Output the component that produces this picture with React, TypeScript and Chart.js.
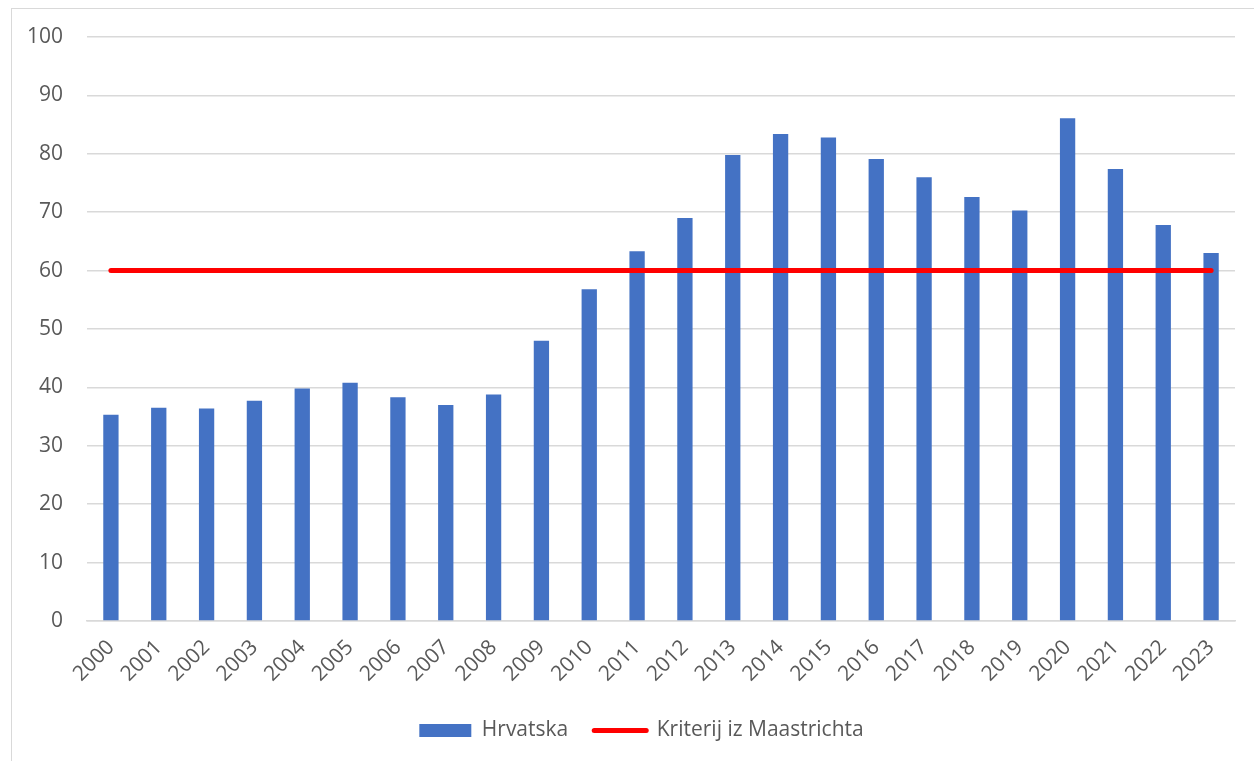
import React, { useEffect, useRef } from "react";
import { Chart, registerables } from "chart.js";

Chart.register(...registerables);

const years: string[] = [
  "2000", "2001", "2002", "2003", "2004", "2005", "2006", "2007", "2008", "2009", "2010", "2011",
  "2012", "2013", "2014", "2015", "2016", "2017", "2018", "2019", "2020", "2021", "2022", "2023",
];
const hrvatska: number[] = [
  35.3, 36.5, 36.4, 37.7, 39.8, 40.8, 38.3, 37.0, 38.8, 48.0, 56.8, 63.3,
  69.0, 79.8, 83.4, 82.8, 79.1, 76.0, 72.6, 70.3, 86.1, 77.4, 67.8, 63.0,
];
const kriterij: number[] = years.map(() => 60);
const seriesNames: string[] = ["Hrvatska", "Kriterij iz Maastrichta"];

const FONT = "'Open Sans', 'Noto Sans', sans-serif";
const TEXT = "#595959";

const legendShift = {
  id: "legendShift",
  afterLayout(chart: any) {
    if (chart.legend) {
      chart.legend.left += 48;
    }
  },
};

export default function App() {
  const ref = useRef<HTMLCanvasElement | null>(null);
  useEffect(() => {
    if (!ref.current) return;
    const chart = new Chart(ref.current, {
      type: "bar",
      data: {
        labels: years,
        datasets: [
          {
            type: "bar",
            label: seriesNames[0],
            data: hrvatska,
            backgroundColor: "#4472C4",
            borderWidth: 0,
            barPercentage: 0.32,
            categoryPercentage: 1,
            order: 1,
          },
          {
            type: "line",
            label: seriesNames[1],
            data: kriterij,
            borderColor: "#FF0000",
            backgroundColor: "#FF0000",
            borderWidth: 5,
            borderCapStyle: "round",
            pointRadius: 0,
            pointHoverRadius: 0,
            order: 0,
          } as any,
        ],
      },
      plugins: [legendShift],
      options: {
        animation: false,
        responsive: false,
        maintainAspectRatio: false,
        layout: { padding: { left: 0, right: 19, top: 37, bottom: 10 } },
        scales: {
          x: {
            grid: { display: false },
            border: { display: true, color: "#d9d9d9", width: 1.5 },
            ticks: {
              color: TEXT,
              font: { family: FONT, size: 21 },
              minRotation: 45,
              maxRotation: 45,
              padding: 6,
              autoSkip: false,
            },
            afterFit: (s: any) => {
              s.height = 73;
            },
          },
          y: {
            min: 0,
            max: 100,
            grid: { color: "#d9d9d9", lineWidth: 1.5, drawTicks: false },
            border: { display: false },
            ticks: {
              stepSize: 10,
              color: TEXT,
              font: { family: FONT, size: 21 },
              padding: 24,
            },
            afterFit: (s: any) => {
              s.width = 87;
            },
          },
        },
        plugins: {
          tooltip: { enabled: false },
          legend: {
            position: "bottom",
            labels: {
              color: TEXT,
              font: { family: FONT, size: 21 },
              usePointStyle: true,
              pointStyleWidth: 52,
              boxHeight: 13,
              padding: 26,
              sort: (a: any, b: any) => a.datasetIndex - b.datasetIndex,
              generateLabels: (c: any) => {
                const items = Chart.defaults.plugins.legend.labels.generateLabels(c);
                items.forEach((it: any) => {
                  if (it.datasetIndex === 0) {
                    it.pointStyle = "rect";
                    it.lineWidth = 0;
                    it.fillStyle = "#4472C4";
                    it.strokeStyle = "#4472C4";
                  } else {
                    it.pointStyle = "line";
                    it.lineWidth = 5;
                    it.strokeStyle = "#FF0000";
                    it.lineCap = "round";
                  }
                });
                return items;
              },
            },
          },
        },
      },
    });
    return () => chart.destroy();
  }, []);

  return (
    <div style={{ position: "absolute", left: 0, top: 0, width: 1254, height: 761, overflow: "hidden", background: "#fff" }}>
      <div
        style={{
          position: "absolute",
          left: 11,
          top: 8,
          width: 1300,
          height: 800,
          border: "1px solid #d9d9d9",
          boxSizing: "border-box",
        }}
      />
      <canvas ref={ref} width={1254} height={761} style={{ position: "absolute", left: 0, top: 0, width: 1254, height: 761 }} />
    </div>
  );
}
